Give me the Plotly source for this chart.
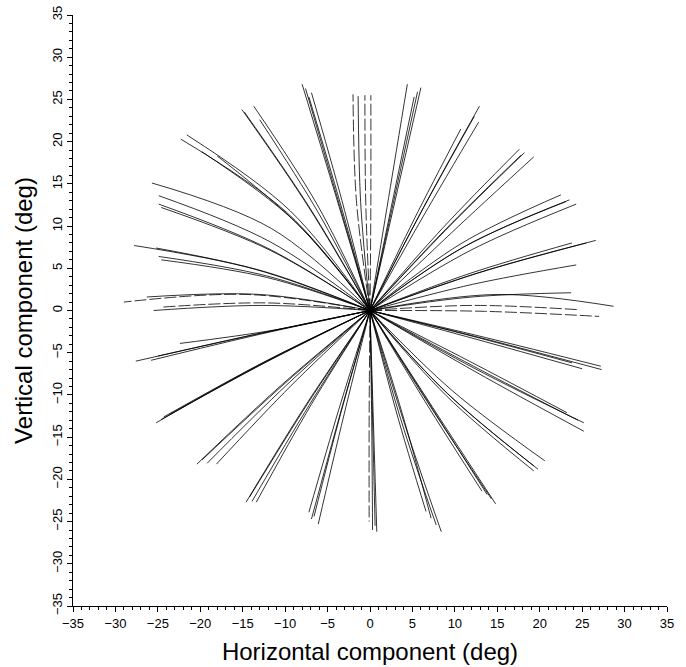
import plotly.graph_objects as go

# Saccade trajectories: each starts at the origin (0, 0), passes through a
# mid point and ends at an end point (deg).
end_x = [-2.0, -1.4, -0.6, 0.1,
         -8.0, -7.6, -7.2, -6.9,
         -15.1, -14.8, -13.7, -13.0,
         -22.3, -21.6, -19.8, -18.0,
         -25.7, -24.9, -24.9, -24.6,
         -27.8, -25.2, -24.6, -24.9,
         -29.0, -26.3, -24.5, -25.5,
         -27.6, -25.8, -22.4, -25.0,
         -25.2, -24.3, -23.6, -24.6,
         -20.4, -19.2, -18.1, -19.8,
         -14.6, -13.9, -13.4, -14.2,
         -7.2, -6.9, -6.1, -6.6,
         -0.1, 0.3, 0.6, 0.8,
         8.4, 7.8, 7.2, 6.6,
         14.8, 14.3, 13.2, 13.8,
         19.3, 20.6, 19.3, 19.8,
         25.2, 25.2, 23.2, 24.5,
         27.3, 27.2, 25.0, 23.8,
         28.7, 23.7, 27.0, 24.5,
         26.6, 23.8, 24.3, 25.5,
         22.5, 23.1, 24.3, 23.5,
         17.6, 17.8, 19.3, 18.2,
         12.9, 12.8, 10.7, 12.3,
         4.4, 5.2, 6.0, 5.6]
end_y = [25.6, 25.4, 25.5, 25.5,
         26.8, 26.3, 25.3, 25.8,
         23.8, 23.5, 24.2, 22.6,
         20.3, 20.8, 18.8, 18.3,
         15.1, 13.6, 12.6, 12.2,
         7.7, 7.4, 6.0, 6.4,
         1.0, 1.6, 0.4, 0.0,
         -6.0, -5.9, -3.9, -5.4,
         -13.3, -12.6, -12.3, -12.9,
         -18.2, -18.1, -18.2, -17.7,
         -22.7, -22.6, -22.7, -22.1,
         -23.9, -24.7, -25.3, -24.4,
         -25.0, -26.0, -25.5, -26.2,
         -26.2, -25.4, -24.6, -23.8,
         -22.9, -22.3, -21.4, -21.8,
         -19.0, -17.8, -18.4, -18.8,
         -13.3, -14.3, -12.1, -13.0,
         -7.0, -6.6, -6.9, -6.2,
         0.5, 2.1, -0.7, 0.1,
         8.3, 8.0, 5.4, 8.0,
         13.7, 12.9, 12.6, 13.1,
         19.1, 18.4, 18.2, 18.7,
         24.2, 22.3, 21.5, 23.0,
         26.8, 25.3, 26.4, 25.9]
mid_x = [-1.6, -1.1, -0.5, 0.1,
         -4.0, -3.8, -3.5, -3.3,
         -7.2, -7.0, -6.2, -6.1,
         -9.8, -9.4, -8.9, -8.3,
         -11.6, -11.7, -11.9, -11.7,
         -13.6, -12.4, -12.1, -12.2,
         -14.5, -13.0, -12.2, -12.7,
         -13.8, -12.9, -11.2, -12.5,
         -12.8, -12.3, -11.9, -12.4,
         -10.4, -9.8, -9.3, -10.0,
         -7.5, -7.1, -6.9, -7.2,
         -3.7, -3.5, -3.1, -3.4,
         -0.1, 0.2, 0.3, 0.4,
         4.0, 3.6, 3.8, 3.1,
         7.4, 7.0, 6.5, 6.9,
         9.0, 9.7, 9.1, 9.3,
         12.4, 12.5, 11.7, 12.2,
         13.7, 13.6, 12.5, 11.9,
         15.0, 12.0, 13.5, 12.2,
         13.2, 11.8, 12.1, 12.6,
         10.7, 11.0, 11.8, 11.2,
         8.6, 8.7, 9.6, 8.9,
         6.3, 6.3, 5.2, 6.0,
         2.2, 2.6, 3.0, 2.8]
mid_y = [13.0, 12.8, 12.8, 12.8,
         13.5, 13.2, 12.7, 13.0,
         12.2, 12.0, 12.5, 11.6,
         11.6, 11.8, 10.6, 10.0,
         9.7, 8.1, 7.3, 7.1,
         4.9, 4.6, 3.9, 4.1,
         1.9, 1.9, 0.9, 0.6,
         -2.9, -2.8, -2.3, -2.6,
         -6.3, -6.0, -5.9, -6.2,
         -8.8, -8.8, -8.9, -8.6,
         -11.1, -11.1, -11.1, -10.8,
         -11.8, -12.2, -12.5, -12.0,
         -12.5, -13.0, -12.8, -13.1,
         -13.2, -12.8, -12.2, -12.0,
         -11.5, -11.2, -10.8, -10.9,
         -10.1, -9.5, -9.8, -10.0,
         -6.9, -7.3, -6.0, -6.6,
         -3.4, -3.2, -3.4, -3.0,
         1.9, 1.6, -0.1, 0.6,
         4.6, 4.4, 3.1, 4.4,
         7.9, 7.5, 7.1, 7.6,
         9.8, 9.4, 9.2, 9.5,
         12.2, 11.2, 10.8, 11.6,
         13.4, 12.7, 13.2, 13.0]
dashed = [1, 0, 1, 1,
          0, 0, 0, 0,
          0, 0, 0, 0,
          0, 0, 0, 0,
          0, 0, 0, 0,
          0, 0, 0, 0,
          1, 0, 1, 0,
          0, 0, 0, 0,
          0, 0, 0, 0,
          0, 0, 0, 0,
          0, 0, 0, 0,
          0, 0, 0, 0,
          1, 0, 0, 0,
          0, 0, 0, 0,
          0, 0, 0, 0,
          0, 0, 0, 0,
          0, 0, 0, 0,
          0, 0, 0, 0,
          0, 0, 1, 1,
          0, 0, 0, 0,
          0, 0, 0, 0,
          0, 0, 0, 0,
          0, 0, 0, 0,
          0, 0, 0, 0]

fig = go.Figure()
for i in range(len(end_x)):
    fig.add_trace(go.Scatter(
        x=[0, mid_x[i], end_x[i]],
        y=[0, mid_y[i], end_y[i]],
        mode="lines",
        line=dict(color="black", width=0.8, shape="spline", smoothing=1.0,
                  dash="12px,3px" if dashed[i] else "solid"),
        showlegend=False, hoverinfo="skip"))

font_family = "Liberation Sans, Arial, Helvetica, sans-serif"
axis_common = dict(
    range=[-35, 35], dtick=5, tick0=0, automargin=False,
    showgrid=False, zeroline=False,
    showline=True, linecolor="black", linewidth=1, mirror=False,
    ticks="outside", ticklen=5, tickwidth=1, tickcolor="black",
    minor=dict(ticks="outside", ticklen=3, tickwidth=1, tickcolor="black",
               dtick=1, showgrid=False),
    tickfont=dict(family=font_family, size=13, color="black"),
)

fig.update_layout(
    width=686, height=667,
    margin=dict(l=73, r=19, t=15, b=61, autoexpand=False),
    paper_bgcolor="white", plot_bgcolor="white",
    font=dict(family=font_family, color="black"),
    xaxis=dict(**axis_common,
               title=dict(text="Horizontal component (deg)",
                          font=dict(family=font_family, size=24),
                          standoff=13)),
    yaxis=dict(**axis_common, tickangle=-90,
               title=dict(text="Vertical component (deg)",
                          font=dict(family=font_family, size=24),
                          standoff=10)),
)

fig.write_html(
    "out.html",
    config={"displayModeBar": False},
    post_script="document.body.style.margin='0px';"
                "document.body.style.overflow='hidden';")
